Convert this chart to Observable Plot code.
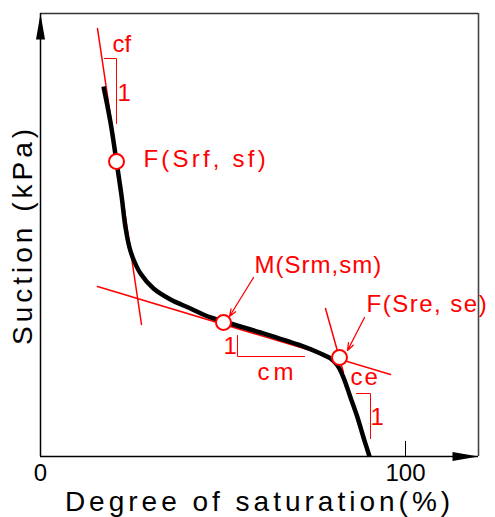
<!DOCTYPE html>
<html><head><meta charset="utf-8">
<script src="https://cdn.jsdelivr.net/npm/d3@7"></script>
<script src="https://cdn.jsdelivr.net/npm/@observablehq/plot@0.6"></script>
<style>body{margin:0;background:#fff}</style>
</head><body><div id="chart"></div>
<script>
// ---- data (degree of saturation Sr in %, suction s in arbitrary units 0-100) ----
const curveSr = [17.26,19.18,20.82,22.19,23.29,24.38,25.48,27.40,30.96,35.62,41.10,45.21,50.14,60.27,71.23,76.71,79.45,81.37,83.01,84.93,86.85,88.49,90.14];
const curveS  = [83.52,75.40,66.59,58.92,51.69,47.18,44.47,41.31,37.92,35.44,33.41,31.83,30.47,27.99,25.06,23.25,22.12,20.54,17.83,13.32,8.80,4.29,0];

const keyNames = ["F(Srf, sf)", "M(Srm,sm)", "F(Sre, se)"];
const keySr = [20.82, 50.14, 81.92];
const keyS  = [66.59, 30.25, 22.35];

const tangentCfSr = [15.62, 27.67];
const tangentCfS  = [96.61, 29.80];
const tangentCmSr = [15.62, 95.89];
const tangentCmS  = [38.37, 18.51];
const tangentCeSr = [78.08, 83.01];
const tangentCeS  = [33.41, 18.96];

const slopeCfSr = [17.53, 20.82, 20.82];
const slopeCfS  = [89.84, 89.84, 75.17];
const slopeCmSr = [53.97, 53.97, 72.33];
const slopeCmS  = [27.31, 22.57, 22.57];
const slopeCeSr = [86.58, 90.41, 90.41];
const slopeCeS  = [14.22, 14.22, 4.06];

const slopeLabels = ["cf", "1", "1", "cm", "ce", "1"];
const slopeLabelSr = [19.73, 21.10, 50.14, 59.45, 84.93, 90.41];
const slopeLabelS  = [91.20, 80.36, 23.25, 17.16, 16.03, 7.00];

const keyLabelSr = [28.22, 58.63, 89.32];
const keyLabelS  = [65.24, 41.53, 32.51];

const pointerFromSr = [58.36, 88.77];
const pointerFromS  = [40.41, 31.38];
const pointerToSr   = [51.78, 84.11];
const pointerToS    = [31.60, 23.93];

const xTicks = [0, 100];
const xDomain = [0, 120];
const yDomain = [0, 100];
const xLabel = "Degree of saturation(%)";
const yLabel = "Suction (kPa)";

// ---- build tables ----
const zip = (a, b) => a.map((v, i) => ({x: v, y: b[i]}));
const curve = zip(curveSr, curveS);
const keys = keyNames.map((n, i) => ({name: n, x: keySr[i], y: keyS[i]}));
const keyLabels = keyNames.map((n, i) => ({name: n, x: keyLabelSr[i], y: keyLabelS[i]}));
const tangents = [
  ...zip(tangentCfSr, tangentCfS).map(d => ({...d, g: "cf"})),
  ...zip(tangentCmSr, tangentCmS).map(d => ({...d, g: "cm"})),
  ...zip(tangentCeSr, tangentCeS).map(d => ({...d, g: "ce"}))
];
const slopes = [
  ...zip(slopeCfSr, slopeCfS).map(d => ({...d, g: "cf"})),
  ...zip(slopeCmSr, slopeCmS).map(d => ({...d, g: "cm"})),
  ...zip(slopeCeSr, slopeCeS).map(d => ({...d, g: "ce"}))
];
const slopeText = slopeLabels.map((t, i) => ({t, x: slopeLabelSr[i], y: slopeLabelS[i]}));
const pointers = pointerFromSr.map((v, i) => ({x1: v, y1: pointerFromS[i], x2: pointerToSr[i], y2: pointerToS[i]}));

const arrowHead = {draw(ctx) { ctx.moveTo(0, 0); ctx.lineTo(-4.5, 26); ctx.lineTo(4.5, 26); ctx.closePath(); }};
const font = "'Liberation Sans', Arial, sans-serif";
const red = "#ff0000";

const plot = Plot.plot({
  width: 495, height: 517,
  marginLeft: 40, marginRight: 17, marginTop: 13, marginBottom: 61,
  x: {domain: xDomain, axis: null},
  y: {domain: yDomain, axis: null},
  style: {fontFamily: font, background: "#fff", overflow: "visible"},
  marks: [
    // frame and axes
    Plot.ruleY([yDomain[1]], {stroke: "#333", strokeWidth: 1.6}),
    Plot.ruleX([xDomain[1]], {stroke: "#444", strokeWidth: 1.6}),
    Plot.ruleX([0], {stroke: "#000", strokeWidth: 1.5}),
    Plot.ruleY([0], {stroke: "#000", strokeWidth: 1.5}),
    Plot.ruleX([xTicks[1]], {y1: 0, y2: 3.4, stroke: "#000", strokeWidth: 1}),
    Plot.dot([{x: 0, y: yDomain[1]}], {x: "x", y: "y", symbol: arrowHead, fill: "#000", stroke: null}),
    Plot.dot([{x: xDomain[1], y: 0}], {x: "x", y: "y", symbol: arrowHead, fill: "#000", stroke: null, rotate: 90}),
    Plot.text(xTicks, {x: d => d, frameAnchor: "bottom", dy: 24, lineAnchor: "bottom", text: d => String(d), fontSize: 24, fill: "#000"}),
    Plot.text([xLabel], {frameAnchor: "bottom", dy: 54, lineAnchor: "bottom", fontSize: 28, fill: "#000"}),
    Plot.text([yLabel], {frameAnchor: "left", textAnchor: "middle", lineAnchor: "middle", dx: -17, rotate: -90, fontSize: 28, fill: "#000"}),
    // tangent lines and slope triangles
    Plot.line(tangents, {x: "x", y: "y", z: "g", stroke: red, strokeWidth: 1.5}),
    Plot.line(slopes, {x: "x", y: "y", z: "g", stroke: red, strokeWidth: 1}),
    // curve
    Plot.line(curve, {x: "x", y: "y", curve: "catmull-rom", stroke: "#000", strokeWidth: 4.5, strokeLinecap: "butt"}),
    // pointers
    Plot.arrow(pointers, {x1: "x1", y1: "y1", x2: "x2", y2: "y2", stroke: red, strokeWidth: 1.3, headLength: 9, headAngle: 40}),
    // key points
    Plot.dot(keys, {x: "x", y: "y", r: 7.5, fill: "#fff", stroke: red, strokeWidth: 2}),
    // labels
    Plot.text(keyLabels, {x: "x", y: "y", text: "name", textAnchor: "start", lineAnchor: "bottom", fontSize: 24, fill: red}),
    Plot.text(slopeText, {x: "x", y: "y", text: "t", textAnchor: "start", lineAnchor: "bottom", fontSize: 24, fill: red})
  ]
});

const spacing = {"F(Srf, sf)": 3.2, "M(Srm,sm)": 1, "F(Sre, se)": 1.5, "cm": 4, "ce": 2, [xLabel]: 4, [yLabel]: 4};
d3.select(plot).selectAll("text").each(function() {
  const t = this.textContent;
  if (spacing[t] != null) this.setAttribute("letter-spacing", spacing[t]);
});
document.getElementById("chart").appendChild(plot);
</script>
</body></html>
